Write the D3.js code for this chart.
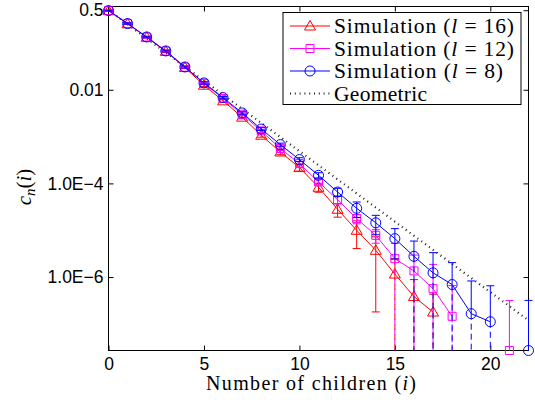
<!DOCTYPE html>
<html><head><meta charset="utf-8">
<script src="https://cdn.jsdelivr.net/npm/d3@7"></script>
<style>body{margin:0;background:#fff} svg{display:block}</style>
</head><body>
<svg id="chart" width="535" height="400"></svg>
<script>
// ---- data ----
const children = [0,1,2,3,4,5,6,7,8,9,10,11,12,13,14,15,16,17,18,19,20,21,22];
const xTicks = [0,5,10,15,20];
const yTicks = [0.5, 0.01, 1e-4, 1e-6];
const yTickLabels = ["0.5", "0.01", "1.0E\u22124", "1.0E\u22126"];
const seriesNames = ["16", "12", "8"];

const meanL16 = [0.49,0.257,0.132,0.066,0.0298,0.0125,0.0058,0.0026,0.00107,4.69e-4,2.18e-4,8.27e-5,2.8e-5,9.96e-6,3.72e-6,1.16e-6,3.83e-7,1.79e-7,null,null,null,null,null];
const sdL16   = [0.01,0.008,0.005,0.003,0.0015,0.0008,0.0004,0.0002,0.0001,6e-5,3.5e-5,1.8e-5,9e-6,5.9e-6,3.54e-6,1.3e-6,5e-7,2.5e-7,null,null,null,null,null];

const meanL12 = [0.49,0.258,0.133,0.067,0.0303,0.0137,0.0065,0.003,0.00132,5.55e-4,2.65e-4,1.08e-4,4.47e-5,1.77e-5,7.78e-6,2.47e-6,1.35e-6,5.65e-7,1.45e-7,null,null,2.7e-8,null];
const sdL12   = [0.01,0.008,0.005,0.003,0.0015,0.0008,0.0004,0.0002,0.0001,5e-5,3e-5,1.5e-5,8e-6,4e-6,2.5e-6,2.78e-6,1.6e-6,1.3e-6,5.1e-7,null,null,2.9e-7,null];

const meanL8  = [0.49,0.26,0.134,0.0675,0.0307,0.014,0.0068,0.0032,0.00145,6.74e-4,3.23e-4,1.49e-4,6.55e-5,2.94e-5,1.44e-5,6.62e-6,2.77e-6,1.23e-6,6.92e-7,1.65e-7,1.11e-7,null,2.7e-8];
const sdL8    = [0.01,0.008,0.005,0.003,0.0015,0.0008,0.0004,0.0002,0.0001,5e-5,3e-5,2e-5,1.3e-5,1.07e-5,6.4e-6,4.2e-6,3.1e-6,2.09e-6,1.34e-6,6.6e-7,5.4e-7,null,2.9e-7];

const geometric = [0.5,0.25,0.125,0.0625,0.03125,0.015625,0.0078125,0.00390625,0.001953125,9.765625e-4,4.8828125e-4,2.44140625e-4,1.220703125e-4,6.103515625e-5,3.0517578125e-5,1.52587890625e-5,7.62939453125e-6,3.814697265625e-6,1.9073486328125e-6,9.5367431640625e-7,4.76837158203125e-7,2.384185791015625e-7,1.1920928955078125e-7];

const xDomain = [0, 22];
const yDomain = [2.7e-8, 0.6];

// ---- layout ----
const L = 108.5, R = 528.5, T = 6.5, B = 350.5;
const svg = d3.select("#chart");
const x = d3.scaleLinear().domain(xDomain).range([L, R]);
const y = d3.scaleLog().domain(yDomain).range([B, T]);

const sansFont = "'Liberation Sans', Arial, sans-serif";
const serifFont = "'Liberation Serif', 'DejaVu Serif', 'Times New Roman', serif";

// axes
function styleAxis(g){
  g.attr("font-family", null).attr("font-size", null);
  g.select(".domain").remove();
  g.selectAll(".tick line").attr("stroke", "#000");
  g.selectAll("text").attr("fill", "#000").attr("font-family", sansFont).attr("font-size", 17.5);
}
svg.append("g").attr("transform", `translate(${L},0)`)
  .call(d3.axisLeft(y).tickValues(yTicks).tickFormat((d,i)=>yTickLabels[i]).tickSizeInner(-5).tickSizeOuter(0).tickPadding(5))
  .call(styleAxis);
svg.append("g").attr("transform", `translate(${R},0)`)
  .call(d3.axisRight(y).tickValues(yTicks).tickFormat("").tickSizeInner(-5).tickSizeOuter(0))
  .call(styleAxis);
svg.append("g").attr("transform", `translate(0,${B})`)
  .call(d3.axisBottom(x).tickValues(xTicks).tickSizeInner(-5).tickSizeOuter(0).tickPadding(7))
  .call(styleAxis);
svg.append("g").attr("transform", `translate(0,${T})`)
  .call(d3.axisTop(x).tickValues(xTicks).tickFormat("").tickSizeInner(-5).tickSizeOuter(0))
  .call(styleAxis);
svg.append("rect").attr("x", L).attr("y", T).attr("width", R-L).attr("height", B-T)
  .attr("fill", "none").attr("stroke", "#000").attr("stroke-width", 1);

// geometric dotted line
svg.append("path")
  .attr("d", d3.line().x((d,i)=>x(children[i])).y(d=>y(d))(geometric))
  .attr("fill", "none").attr("stroke", "#222").attr("stroke-width", 2.2)
  .attr("stroke-dasharray", "1 3.8");

// markers
const markerPaths = {
  tri: "M0,-5.5L5.5,4L-5.5,4Z",
  sq: "M-4,-4H4V4H-4Z",
  circ: d3.symbol().type(d3.symbolCircle).size(Math.PI*25)()
};
const series = [
  {name: seriesNames[0], mean: meanL16, sd: sdL16, color: "#ff0000", marker: "tri", w: 180},
  {name: seriesNames[1], mean: meanL12, sd: sdL12, color: "#ff00ff", marker: "sq", w: 180},
  {name: seriesNames[2], mean: meanL8,  sd: sdL8,  color: "#0000ff", marker: "circ", w: 169}
];
const cap = 4;
series.forEach(s => {
  const g = svg.append("g");
  const pts = children.map((c,i)=>({c, m: s.mean[i], sd: s.sd[i]}));
  g.append("path")
    .attr("d", d3.line().defined(d=>d.m!=null).x(d=>x(d.c)).y(d=>y(d.m))(pts))
    .attr("fill", "none").attr("stroke", s.color).attr("stroke-width", 1);
  const valid = pts.filter(d=>d.m!=null);
  valid.forEach(d => {
    const cx = x(d.c), ym = y(d.m), yt = y(d.m + d.sd);
    const lo = d.m - d.sd;
    const eg = g.append("g").attr("stroke", s.color).attr("stroke-width", 1).attr("fill", "none");
    if (lo > 0) {
      const yb = y(lo);
      eg.append("line").attr("x1", cx).attr("x2", cx).attr("y1", yt).attr("y2", yb);
      eg.append("line").attr("x1", cx-cap).attr("x2", cx+cap).attr("y1", yb).attr("y2", yb);
    } else {
      eg.append("line").attr("x1", cx).attr("x2", cx).attr("y1", yt).attr("y2", ym);
      eg.append("line").attr("x1", cx).attr("x2", cx).attr("y1", ym).attr("y2", B)
        .attr("stroke-dasharray", "6 4");
    }
    eg.append("line").attr("x1", cx-cap).attr("x2", cx+cap).attr("y1", yt).attr("y2", yt);
  });
  g.selectAll(".mk").data(valid).join("path").attr("class", "mk")
    .attr("d", markerPaths[s.marker])
    .attr("transform", d=>`translate(${x(d.c)},${y(d.m)})`)
    .attr("fill", "none").attr("stroke", s.color).attr("stroke-width", 1);
});

// legend
const lg = svg.append("g");
lg.append("rect").attr("x", 283).attr("y", 12.5).attr("width", 238).attr("height", 92)
  .attr("fill", "#fff").attr("stroke", "#000").attr("stroke-width", 1);
const rowY = [26, 48.5, 71, 93.5];
series.forEach((s, i) => {
  const yy = rowY[i];
  lg.append("line").attr("x1", 290).attr("x2", 330).attr("y1", yy).attr("y2", yy)
    .attr("stroke", s.color).attr("stroke-width", 1);
  lg.append("path").attr("d", markerPaths[s.marker]).attr("transform", `translate(310,${yy})`)
    .attr("fill", "none").attr("stroke", s.color);
  const t = lg.append("text").attr("x", 334).attr("y", yy + 7)
    .attr("font-family", serifFont).attr("font-size", 21.5).attr("fill", "#000")
    .attr("textLength", s.w).attr("lengthAdjust", "spacing");
  t.append("tspan").text("Simulation (");
  t.append("tspan").attr("font-style", "italic").text("l");
  t.append("tspan").text(" = " + s.name + ")");
});
lg.append("line").attr("x1", 290).attr("x2", 330).attr("y1", rowY[3]).attr("y2", rowY[3])
  .attr("stroke", "#222").attr("stroke-width", 2.2).attr("stroke-dasharray", "1 3.8");
lg.append("text").attr("x", 334).attr("y", rowY[3] + 7)
  .attr("font-family", serifFont).attr("font-size", 21.5).attr("fill", "#000")
  .attr("textLength", 93).attr("lengthAdjust", "spacing").text("Geometric");

// axis titles
const xl = svg.append("text").attr("x", 311).attr("y", 390).attr("text-anchor", "middle")
  .attr("font-family", serifFont).attr("font-size", 20).attr("fill", "#000")
  .attr("textLength", 210).attr("lengthAdjust", "spacing");
xl.append("tspan").text("Number of children (");
xl.append("tspan").attr("font-style", "italic").text("i");
xl.append("tspan").text(")");

const yl = svg.append("text").attr("transform", "translate(31,187) rotate(-90)").attr("text-anchor", "middle")
  .attr("font-family", serifFont).attr("font-size", 21).attr("fill", "#000");
yl.append("tspan").attr("font-style", "italic").text("c");
yl.append("tspan").attr("font-style", "italic").attr("font-size", 15).attr("dy", 4).text("n");
yl.append("tspan").attr("dy", -4).text("(");
yl.append("tspan").attr("font-style", "italic").text("i");
yl.append("tspan").text(")");
</script>
</body></html>
